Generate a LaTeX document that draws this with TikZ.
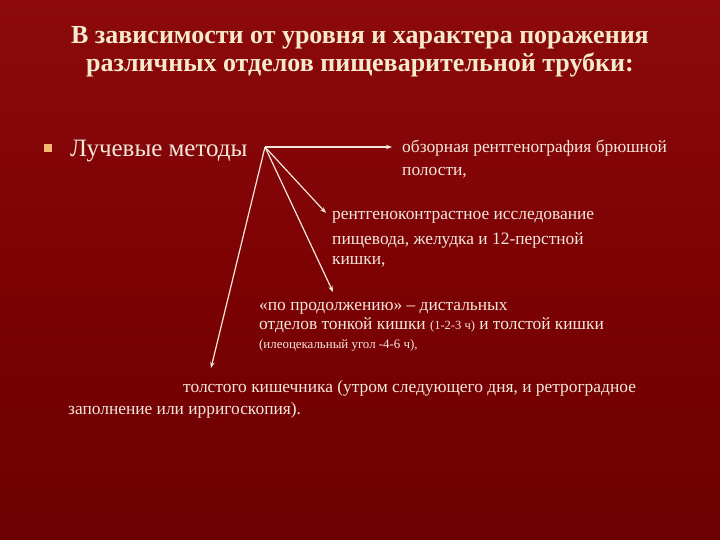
\documentclass[tikz,border=0pt]{standalone}
\usepackage{fontspec}
\setmainfont{Liberation Serif}
\usetikzlibrary{arrows.meta}
\definecolor{bgtop}{RGB}{140,10,12}
\definecolor{bgmid}{RGB}{125,2,4}
\definecolor{bgbot}{RGB}{108,0,2}
\definecolor{titlec}{RGB}{246,234,206}
\definecolor{txtc}{RGB}{244,232,220}
\definecolor{bulc}{RGB}{246,184,110}
\tikzset{
  ttl/.style={anchor=base, text=titlec, font=\fontsize{26}{30}\selectfont\bfseries, inner sep=0pt},
  body/.style={anchor=base west, text=txtc, font=\fontsize{17.4}{20}\selectfont, inner sep=0pt},
  big/.style={anchor=base west, text=txtc, font=\fontsize{25}{28}\selectfont, inner sep=0pt},
  tiny/.style={anchor=base west, text=txtc, font=\fontsize{12.9}{15}\selectfont, inner sep=0pt},
  conn/.style={draw=txtc, line width=1.2pt, -{Stealth[length=6pt,width=4.5pt]}}
}
\begin{document}
\begin{tikzpicture}[x=1pt,y=-1pt]
\useasboundingbox (0,0) rectangle (720,540);
\shade[top color=bgtop, bottom color=bgbot, middle color=bgmid] (0,0) rectangle (720,540);
% title
\node[ttl] (t1) at (360,44) {В зависимости от уровня и характера поражения};
\node[ttl] (t2) at (360,72) {различных отделов пищеварительной трубки:};
% bullet
\node[fill=bulc, minimum size=8pt, inner sep=0pt] (bul) at (48,148) {};
\node[big] (lm) at (70,157) {Лучевые методы};
\coordinate (o) at (265,147);
% branch 1
\node[body] (a1) at (402,153) {обзорная рентгенография брюшной};
\node[body] (a1b) at (402,176) {полости,};
% branch 2
\node[body] (b1) at (332,220) {рентгеноконтрастное исследование};
\node[body] (b2) at (332,244) {пищевода, желудка и 12-перстной};
\node[body] (b3) at (332,264) {кишки,};
% branch 3
\node[body] (c1) at (259,310) {«по продолжению» – дистальных};
\node[body] (c2) at (259,329) {отделов тонкой кишки {\fontsize{12.5}{14}\selectfont(1-2-3 ч)} и толстой кишки};
\node[tiny] (c3) at (259,348) {(илеоцекальный угол -4-6 ч),};
% branch 4
\node[body] (d1) at (183,392) {толстого кишечника (утром следующего дня, и ретроградное};
\node[body] (d2) at (68,414) {заполнение или ирригоскопия).};
% connectors
\coordinate (e1) at (392,147);
\coordinate (e2) at (326,213);
\coordinate (e3) at (333,292);
\coordinate (e4) at (211,368);
\draw[conn] (o) -- (e1);
\draw[conn] (o) -- (e2);
\draw[conn] (o) -- (e3);
\draw[conn] (o) -- (e4);
\end{tikzpicture}
\end{document}
